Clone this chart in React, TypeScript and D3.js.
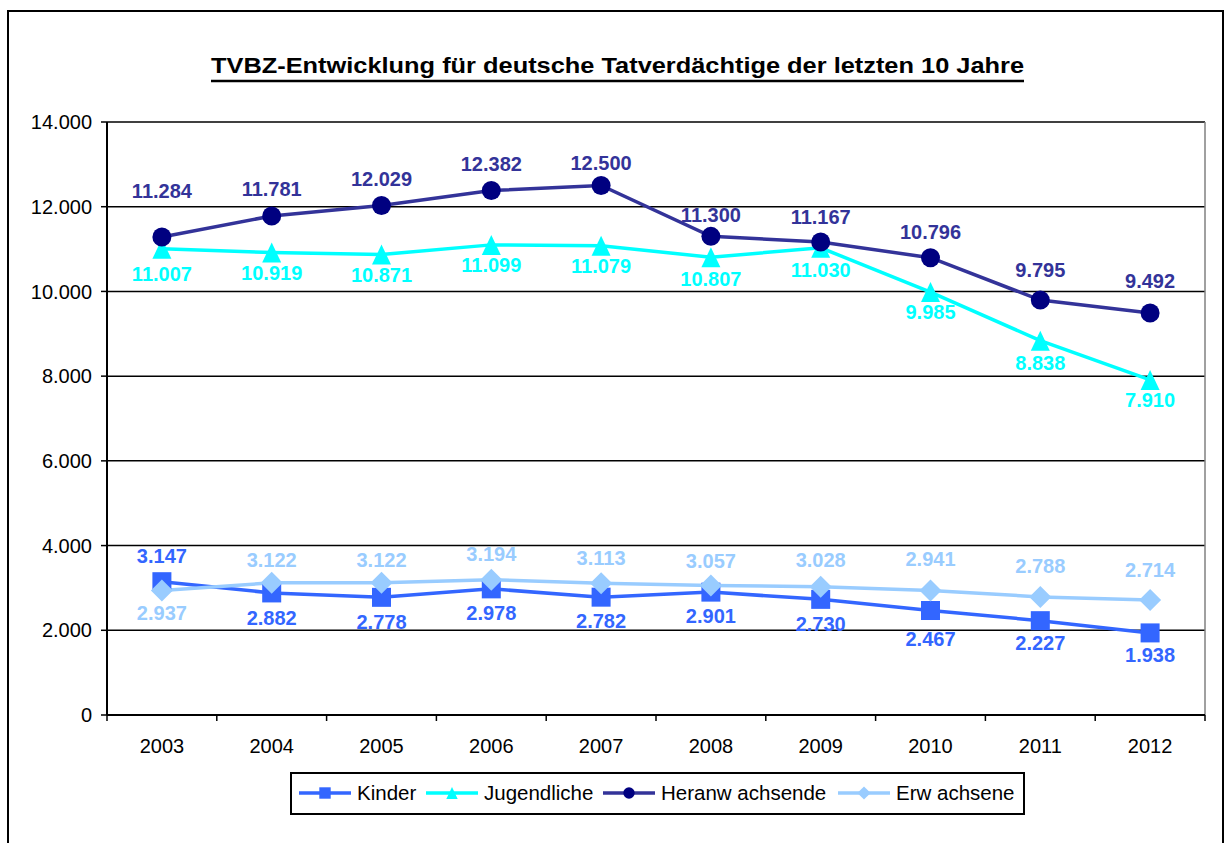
import React from "react";
import * as d3 from "d3";

const years = ["2003", "2004", "2005", "2006", "2007", "2008", "2009", "2010", "2011", "2012"];
const kinder = [3147, 2882, 2778, 2978, 2782, 2901, 2730, 2467, 2227, 1938];
const jugendliche = [11007, 10919, 10871, 11099, 11079, 10807, 11030, 9985, 8838, 7910];
const heranwachsende = [11284, 11781, 12029, 12382, 12500, 11300, 11167, 10796, 9795, 9492];
const erwachsene = [2937, 3122, 3122, 3194, 3113, 3057, 3028, 2941, 2788, 2714];
const yTicks = [0, 2000, 4000, 6000, 8000, 10000, 12000, 14000];
const seriesNames = ["Kinder", "Jugendliche", "Heranw achsende", "Erw achsene"];
const title = "TVBZ-Entwicklung für deutsche Tatverdächtige der letzten 10 Jahre";

// layout: label vertical offsets (px) per point
const labelDy = {
  kinder: [-26, 25, 24, 24, 24, 24, 24, 28, 22, 22],
  jugendliche: [25, 20, 20, 20, 20, 22, 22, 20, 22, 20],
  heranwachsende: [-46, -27, -27, -27, -23, -22, -25, -26, -30, -32],
  erwachsene: [22, -23, -23, -26, -25, -25, -27, -32, -31, -30],
};

const fmt = (v: number) => d3.format(",")(v).replace(/,/g, ".");

const L = 107, R = 1205, T = 122, B = 715;
const FONT = "Arial, 'Liberation Sans', sans-serif";

function Marker({ type, x, y, fill, s = 1 }: { type: string; x: number; y: number; fill: string; s?: number }) {
  if (type === "square") {
    const h = 9.5 * s;
    return <rect x={x - h} y={y - h} width={2 * h} height={2 * h} fill={fill} />;
  }
  if (type === "triangle") {
    const w = 9.5 * s, h = 10 * s;
    return <path d={`M${x},${y - h}L${x + w},${y + h}L${x - w},${y + h}Z`} fill={fill} />;
  }
  if (type === "circle") {
    return <circle cx={x} cy={y} r={9.5 * s} fill={fill} />;
  }
  const d = 11 * s;
  return <path d={`M${x},${y - d}L${x + d},${y}L${x},${y + d}L${x - d},${y}Z`} fill={fill} />;
}

export default function App() {
  const x = d3.scaleBand<string>().domain(years).range([L, R]);
  const y = d3.scaleLinear().domain([0, 14000]).range([B, T]);
  const cx = (yr: string) => (x(yr) as number) + x.bandwidth() / 2;

  const series = [
    { key: "kinder", name: seriesNames[0], data: kinder, line: "#3366FF", marker: "#3366FF", label: "#3366FF", type: "square" },
    { key: "jugendliche", name: seriesNames[1], data: jugendliche, line: "#00FFFF", marker: "#00FFFF", label: "#00FFFF", type: "triangle" },
    { key: "heranwachsende", name: seriesNames[2], data: heranwachsende, line: "#333399", marker: "#000080", label: "#333399", type: "circle" },
    { key: "erwachsene", name: seriesNames[3], data: erwachsene, line: "#99CCFF", marker: "#99CCFF", label: "#99CCFF", type: "diamond" },
  ];
  const drawOrder = [0, 1, 3, 2].map((i) => series[i]);

  const line = d3.line<number>().x((_, i) => cx(years[i])).y((v) => y(v));

  const legendX = [299, 426, 603, 838];

  return (
    <svg width={1229} height={843} style={{ position: "absolute", left: 0, top: 0, background: "#fff" }} fontFamily={FONT}>
      <rect x={8} y={11} width={1215} height={900} fill="#fff" stroke="#000" strokeWidth={2} />
      <text x={211} y={73} fontSize={22} fontWeight="bold" textLength={813} lengthAdjust="spacingAndGlyphs">{title}</text>
      <line x1={211} x2={1024} y1={81} y2={81} stroke="#000" strokeWidth={2.5} />

      {yTicks.map((t) => (
        <g key={t}>
          {t > 0 && <line x1={L} x2={R} y1={y(t)} y2={y(t)} stroke="#000" strokeWidth={1.5} />}
          <line x1={L - 6} x2={L} y1={y(t)} y2={y(t)} stroke="#000" strokeWidth={1.5} />
          <text x={92} y={y(t)} dy="0.36em" textAnchor="end" fontSize={20}>{fmt(t)}</text>
        </g>
      ))}
      <line x1={R} x2={R} y1={T} y2={B} stroke="#808080" strokeWidth={1.5} />
      <line x1={L} x2={L} y1={T} y2={B} stroke="#000" strokeWidth={2} />
      <line x1={L} x2={R} y1={B} y2={B} stroke="#000" strokeWidth={2} />
      {years.map((yr, i) => (
        <g key={yr}>
          <line x1={x(yr) as number} x2={x(yr) as number} y1={B} y2={B + 6} stroke="#000" strokeWidth={1.5} />
          {i === years.length - 1 && <line x1={R} x2={R} y1={B} y2={B + 6} stroke="#000" strokeWidth={1.5} />}
          <text x={cx(yr)} y={746} dy="0.36em" textAnchor="middle" fontSize={20}>{yr}</text>
        </g>
      ))}

      {drawOrder.map((s) => (
        <path key={s.key} d={line(s.data) as string} fill="none" stroke={s.line} strokeWidth={3.5} />
      ))}
      {drawOrder.map((s) => (
        <g key={s.key + "m"}>
          {s.data.map((v, i) => (
            <Marker key={i} type={s.type} x={cx(years[i])} y={y(v)} fill={s.marker} />
          ))}
        </g>
      ))}
      {drawOrder.map((s) => (
        <g key={s.key + "l"}>
          {s.data.map((v, i) => (
            <text key={i} x={cx(years[i])} y={y(v) + (labelDy as any)[s.key][i]} dy="0.36em" textAnchor="middle"
              fontSize={20} fontWeight="bold" fill={s.label}>{fmt(v)}</text>
          ))}
        </g>
      ))}

      <rect x={291} y={773} width={733} height={41} fill="#fff" stroke="#000" strokeWidth={2} />
      {series.map((s, i) => (
        <g key={s.key + "leg"}>
          <line x1={legendX[i]} x2={legendX[i] + 52} y1={793} y2={793} stroke={s.line} strokeWidth={3.5} />
          <Marker type={s.type} x={legendX[i] + 26} y={793} fill={s.marker} s={0.6} />
          <text x={legendX[i] + 58} y={793} dy="0.36em" fontSize={20.5}>{s.name}</text>
        </g>
      ))}
    </svg>
  );
}
